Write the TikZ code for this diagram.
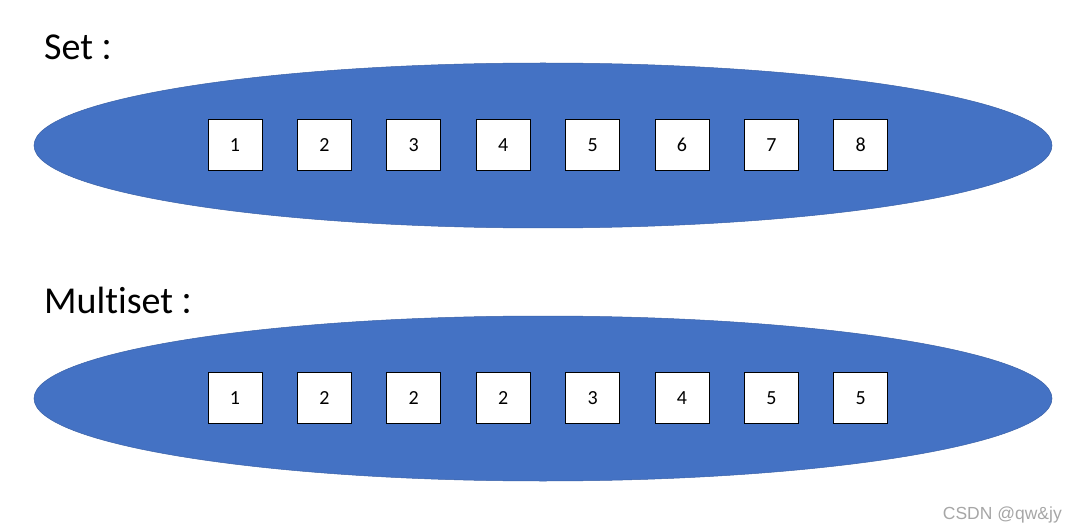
\documentclass[tikz,border=0pt]{standalone}
\usepackage{fontspec}
\setmainfont[Ligatures=NoCommon]{Carlito}
\newfontfamily\cjk{Noto Sans CJK SC}
\newfontfamily\wm{Liberation Sans}
\usetikzlibrary{shapes.geometric}
\definecolor{setblue}{HTML}{4472C4}
\tikzset{
  setell/.style={ellipse, fill=setblue, draw=setblue!85!black, line width=0.5pt, minimum width=1018pt, minimum height=165pt, inner sep=0pt},
  elbox/.style={rectangle, fill=white, draw=black, line width=0.8pt, minimum width=54pt, minimum height=51pt, inner sep=0pt, font=\fontsize{20}{24}\selectfont},
  title/.style={anchor=base west, inner sep=0pt, font=\fontsize{38}{44}\selectfont},
}
\newcommand{\fwcolon}{\hspace{6pt}{\cjk\fontsize{30}{36}\selectfont ：}}
\begin{document}
\begin{tikzpicture}[x=1pt,y=-1pt]
\useasboundingbox (0,0) rectangle (1080,532);
\node[title] (t1) at (44,60) {Set\fwcolon};
\node[title] (t2) at (44,313) {Multiset\fwcolon};
\node[setell] (e1) at (543,145.5) {};
\node[setell] (e2) at (543,398.5) {};
\foreach \v [count=\i from 0] in {1,2,3,4,5,6,7,8}
  \node[elbox] (a\i) at (235+89.4*\i,145) {\v};
\foreach \v [count=\i from 0] in {1,2,2,2,3,4,5,5}
  \node[elbox] (b\i) at (235+89.4*\i,398) {\v};
\node[anchor=base east, inner sep=0pt, text=black!35, font=\wm\fontsize{17.5}{20}\selectfont] (wm) at (1062,519) {CSDN @qw\&jy};
\end{tikzpicture}
\end{document}
